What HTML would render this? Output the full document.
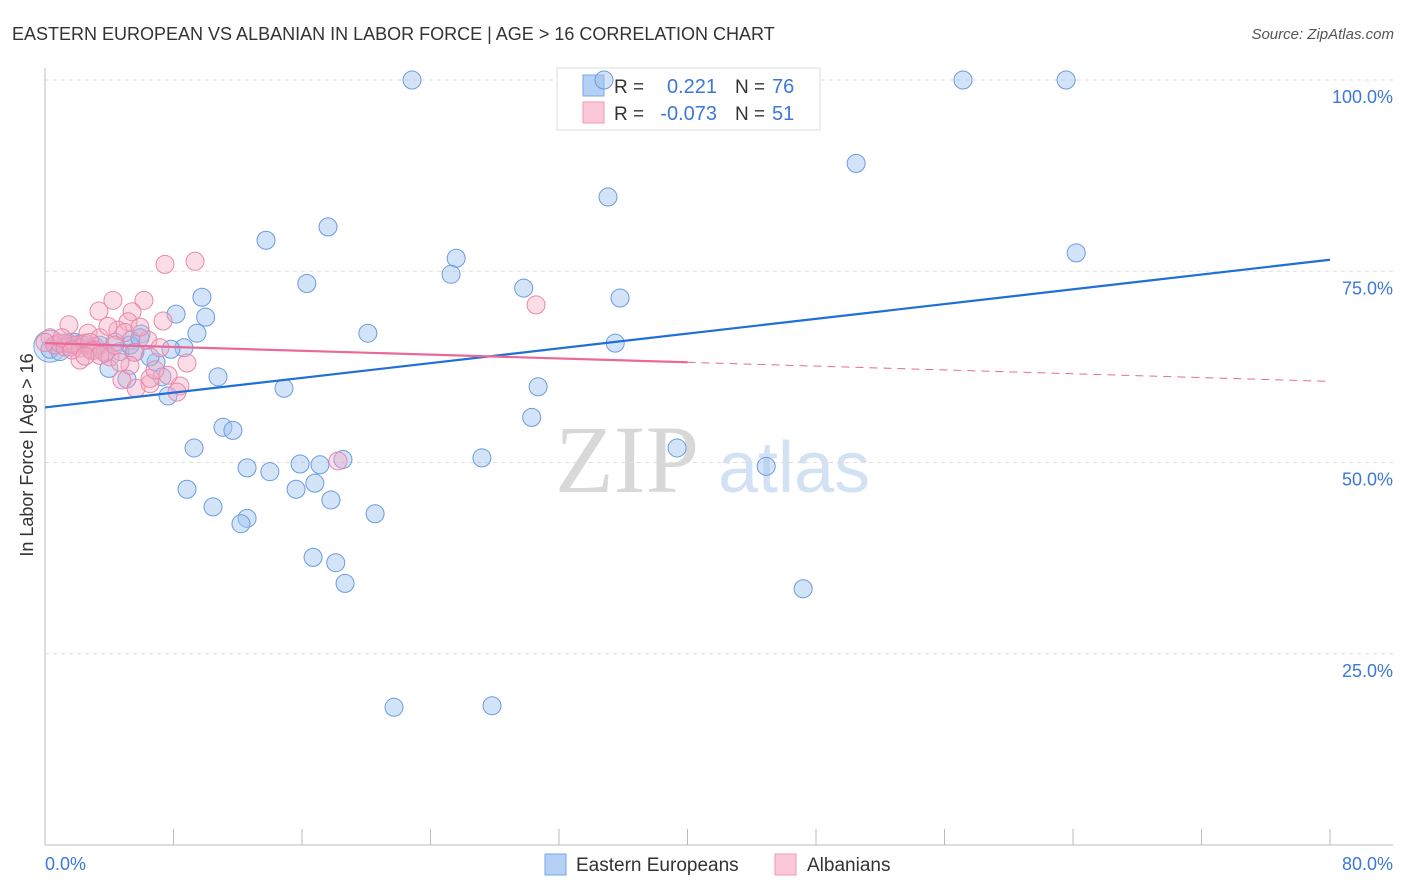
<!DOCTYPE html>
<html><head><meta charset="utf-8"><style>
body{margin:0;background:#fff;font-family:"Liberation Sans",sans-serif;}
#wrap{position:relative;width:1406px;height:892px;overflow:hidden;}
</style></head><body>
<div id="wrap">
<svg id="svg" width="1406" height="892" xmlns="http://www.w3.org/2000/svg">
<text x="12" y="40" font-size="18" fill="#333">EASTERN EUROPEAN VS ALBANIAN IN LABOR FORCE | AGE &gt; 16 CORRELATION CHART</text>
<text x="1394" y="39" font-size="15" fill="#555" font-style="italic" text-anchor="end">Source: ZipAtlas.com</text>
<text x="555" y="492" font-size="96" font-family="Liberation Serif,serif" fill="#d8d8d8">ZIP</text>
<text x="718" y="492" font-size="72" fill="#d3e1f4">atlas</text>
<g id="grid"></g>
<g id="axes"></g>
<g>
<rect x="557" y="68" width="263" height="62" fill="#fff" stroke="#ddd"/>
<rect x="583" y="75" width="21" height="21" fill="#b5d0f5" stroke="#7aa6e6"/>
<text x="614" y="93" font-size="19" fill="#333">R =</text>
<text x="717" y="93" font-size="20" fill="#3b78d8" text-anchor="end">0.221</text>
<text x="735" y="93" font-size="19" fill="#333">N =</text>
<text x="772" y="93" font-size="20" fill="#3b78d8">76</text>
<rect x="583" y="102" width="21" height="21" fill="#fac8d8" stroke="#ee9ab8"/>
<text x="614" y="120" font-size="19" fill="#333">R =</text>
<text x="717" y="120" font-size="20" fill="#3b78d8" text-anchor="end">-0.073</text>
<text x="735" y="120" font-size="19" fill="#333">N =</text>
<text x="772" y="120" font-size="20" fill="#3b78d8">51</text>
</g>
<g id="pts"></g>
<g id="lines"></g>
<text transform="translate(33,455) rotate(-90)" font-size="18" fill="#333" text-anchor="middle">In Labor Force | Age &gt; 16</text>
<g>
<rect x="545" y="854" width="21" height="21" fill="#b5d0f5" stroke="#7aa6e6"/>
<text x="576" y="871" font-size="19" fill="#333">Eastern Europeans</text>
<rect x="775" y="854" width="21" height="21" fill="#fac8d8" stroke="#ee9ab8"/>
<text x="807" y="871" font-size="19" fill="#333">Albanians</text>
</g>
<text x="45" y="870" font-size="18" fill="#3b78d8">0.0%</text>
<text x="1393" y="870" font-size="18" fill="#3b78d8" text-anchor="end">80.0%</text>
</svg>
</div>
<script>
const yTicks=[100,75,50,25];
const yTickLabels=["100.0%","75.0%","50.0%","25.0%"];
const xTicks=[0,8,16,24,32,40,48,56,64,72,80];
const blueX=[22.85,34.8,57.15,63.57,50.5,35.05,13.76,17.62,25.6,25.28,64.2,16.3,29.8,35.8,9.77,8.16,10.0,9.46,5.98,20.1,35.5,8.65,7.84,5.35,5.54,6.91,3.98,10.77,7.28,5.1,14.88,30.7,7.66,30.3,11.08,11.7,9.28,39.35,27.2,18.55,15.88,17.12,12.58,14.0,44.9,8.84,15.63,16.8,17.8,10.46,20.55,12.58,12.2,16.69,18.1,18.68,47.2,21.73,27.83,0.62,1.25,1.87,2.49,3.11,0.31,0.93,1.56,3.42,4.67,3.74,6.54,5.29,4.36,2.18,2.8,5.91];
const blueY=[100,100,100,100,89.1,84.7,79.05,80.8,76.7,74.6,77.4,73.4,72.8,71.5,71.6,69.4,69.0,66.9,66.8,66.9,65.6,65.0,64.8,66.0,64.4,63.1,62.3,61.2,61.2,60.9,59.7,59.9,58.7,55.9,54.6,54.2,51.9,51.9,50.6,50.4,49.8,49.7,49.3,48.8,49.5,46.5,46.5,47.3,45.1,44.2,43.3,42.7,42.0,37.6,36.9,34.2,33.5,18.0,18.2,65.35,65.6,65.7,65.35,65.2,64.8,64.5,65.1,65.35,64.5,64.4,63.8,65.35,65.7,65.5,64.8,66.3];
const pinkX=[7.47,9.34,30.57,4.23,6.16,3.36,5.42,7.35,1.49,5.17,2.68,4.54,3.42,6.41,4.98,0.31,0.62,0.93,1.25,1.56,1.87,2.18,2.49,2.8,3.11,3.74,2.18,4.05,5.6,8.84,4.79,5.67,6.54,8.4,8.22,7.66,6.54,18.24,0,3.92,5.91,2.93,1.06,1.68,4.36,7.16,3.42,2.49,5.29,6.85,4.67];
const pinkY=[75.9,76.3,70.6,71.2,71.2,69.8,69.7,68.5,68.0,68.4,66.9,67.3,66.3,66.0,67.0,66.3,65.35,65.6,65.1,65.5,65.35,64.96,65.6,65.7,64.7,64.3,63.4,63.8,64.4,63.0,60.8,59.7,60.3,60.0,59.2,61.4,61.0,50.2,65.7,67.8,67.7,64.6,66.3,64.7,65.35,65.0,64.0,63.9,62.7,62.1,63.1];
const blueTrend=[57.2,76.5];
const pinkTrend=[65.6,60.6];
const pinkSolidEnd=40;

const NS="http://www.w3.org/2000/svg";
const X=v=>45+v/80*1285;
const Y=v=>845-v/100*765;
function mk(tag,attrs,parent){const e=document.createElementNS(NS,tag);for(const k in attrs)e.setAttribute(k,attrs[k]);parent.appendChild(e);return e;}
const grid=document.getElementById('grid'),axes=document.getElementById('axes'),pts=document.getElementById('pts'),lines=document.getElementById('lines');
yTicks.forEach((t,i)=>{
 const l=mk('line',{x1:45,x2:1393,y1:Y(t),y2:Y(t),stroke:'#ddd','stroke-dasharray':'4,4'},grid);
 
 
 const tx=mk('text',{x:1393,y:Y(t)+23,'font-size':18,fill:'#3b78d8','text-anchor':'end'},grid);
 tx.textContent=yTickLabels[i];
 
 
});
const ax=mk('line',{x1:45,x2:45,y1:68,y2:845,stroke:'#bbb'},axes);


const bx=mk('line',{x1:45,x2:1393,y1:845,y2:845,stroke:'#bbb'},axes);


xTicks.forEach(t=>{
 const l=mk('line',{x1:X(t),x2:X(t),y1:829,y2:845,stroke:'#bbb'},axes);
 
 
});
function dots(xs,ys,fill,stroke,name){
 xs.forEach((x,i)=>{
  const c=mk('circle',{cx:X(x),cy:Y(ys[i]),r:9,fill:fill,stroke:stroke,'stroke-width':1},pts);
  
  
 });
}
const big1=mk('circle',{cx:X(0.3),cy:Y(65.2),r:16,fill:'rgba(160,196,240,0.4)',stroke:'#7aa6e6'},pts);


dots(blueX,blueY,'rgba(160,196,240,0.45)','#6a9be0','blue-point');
dots(pinkX,pinkY,'rgba(245,170,195,0.4)','#e888aa','pink-point');
const bl=mk('line',{x1:X(0),y1:Y(blueTrend[0]),x2:X(80),y2:Y(blueTrend[1]),stroke:'#1f6fd6','stroke-width':2.2},lines);


const pm=pinkTrend[0]+(pinkTrend[1]-pinkTrend[0])*pinkSolidEnd/80;
const pl=mk('line',{x1:X(0),y1:Y(pinkTrend[0]),x2:X(pinkSolidEnd),y2:Y(pm),stroke:'#e8699a','stroke-width':2.2},lines);


const pd=mk('line',{x1:X(pinkSolidEnd),y1:Y(pm),x2:X(80),y2:Y(pinkTrend[1]),stroke:'#e8699a','stroke-width':1,'stroke-dasharray':'8,6'},lines);


</script>
</body></html>
